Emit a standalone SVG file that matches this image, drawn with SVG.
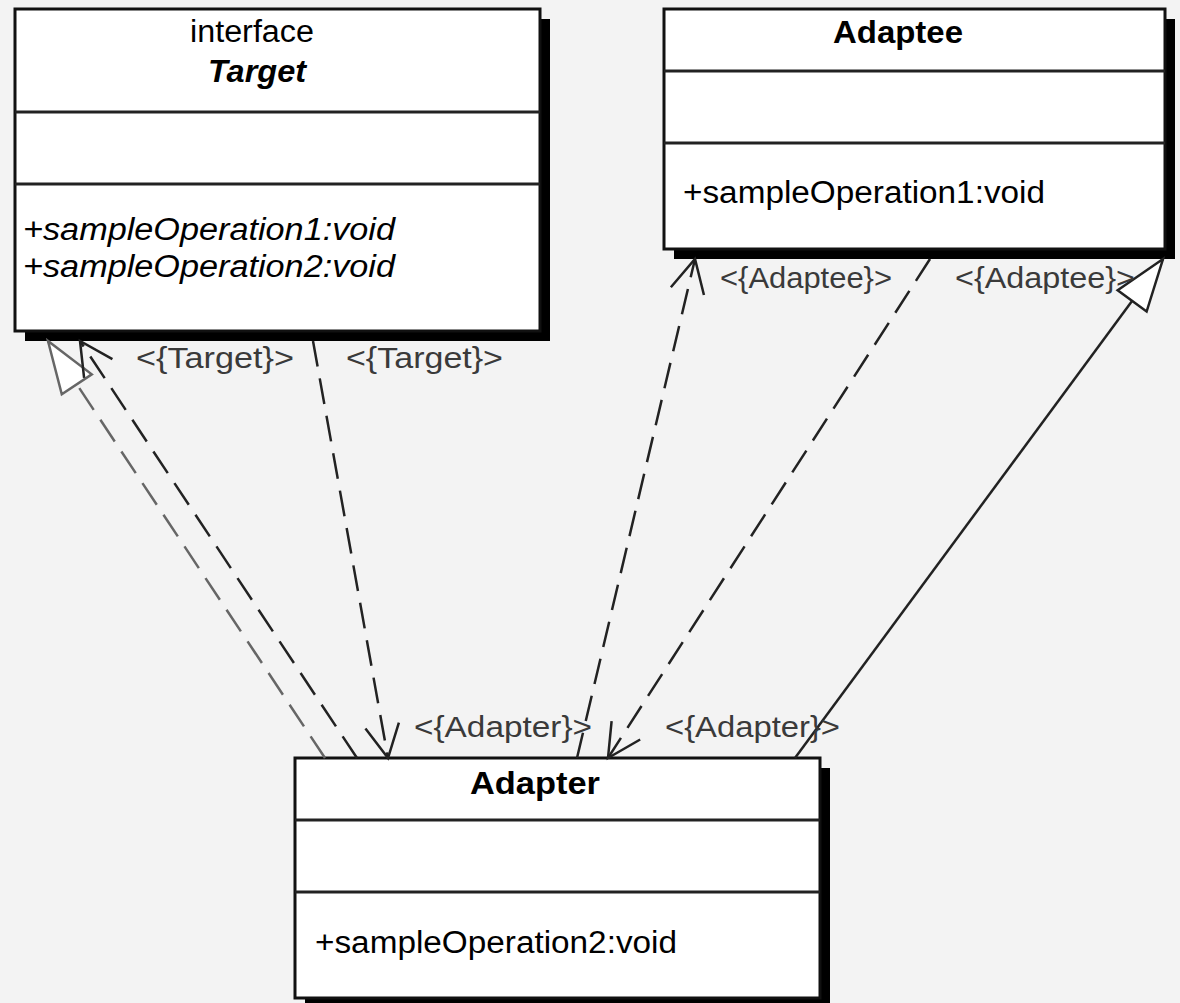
<svg xmlns="http://www.w3.org/2000/svg" width="1180" height="1003" viewBox="0 0 1180 1003">
<style>
.bg{fill:#f3f3f3}
.shadow{fill:#000}
.box{fill:#fff;stroke:#111;stroke-width:3}
.div{stroke:#222;stroke-width:3}
.t{font-family:"Liberation Sans",Arial,sans-serif;fill:#000;font-size:31px}
.b{font-weight:bold}
.i{font-style:italic}
.lbl{font-family:"Liberation Sans",Arial,sans-serif;fill:#3a3a3a;font-size:30px}
.dash{fill:none;stroke:#222;stroke-width:2.5;stroke-dasharray:26,12}
.real{fill:none;stroke:#666;stroke-width:2.5;stroke-dasharray:26,12}
.solid{fill:none;stroke:#222;stroke-width:2.5}
</style>
<defs>
<marker id="open" markerUnits="userSpaceOnUse" viewBox="-40 -20 44 40" refX="0" refY="0" markerWidth="44" markerHeight="40" orient="auto" overflow="visible">
<path d="M-33,-17 L0,0 L-33,17" fill="none" stroke="#222" stroke-width="2.5" stroke-dasharray="none"/>
</marker>
<marker id="triGray" markerUnits="userSpaceOnUse" viewBox="-56 -22 60 44" refX="0" refY="0" markerWidth="60" markerHeight="44" orient="auto" overflow="visible">
<path d="M0,0 L-52,-18 L-52,18 Z" fill="#fff" stroke="#666" stroke-width="2.5" stroke-dasharray="none"/>
</marker>
<marker id="triDark" markerUnits="userSpaceOnUse" viewBox="-56 -22 60 44" refX="0" refY="0" markerWidth="60" markerHeight="44" orient="auto" overflow="visible">
<path d="M0,0 L-52,-18 L-52,18 Z" fill="#fff" stroke="#222" stroke-width="2.5" stroke-dasharray="none"/>
</marker>
</defs>
<rect class="bg" x="0" y="0" width="1180" height="1003"/>

<g id="Target">
<rect class="shadow" x="25" y="19" width="525" height="322"/>
<rect class="box" x="15" y="9" width="525" height="322"/>
<line class="div" x1="15" y1="112" x2="540" y2="112"/>
<line class="div" x1="15" y1="184" x2="540" y2="184"/>
<text class="t" x="190" y="42" textLength="124" lengthAdjust="spacingAndGlyphs">interface</text>
<text class="t b i" x="208" y="82" textLength="98" lengthAdjust="spacingAndGlyphs">Target</text>
<text class="t i" x="23" y="240" textLength="372" lengthAdjust="spacingAndGlyphs">+sampleOperation1:void</text>
<text class="t i" x="23" y="277" textLength="372" lengthAdjust="spacingAndGlyphs">+sampleOperation2:void</text>
</g>

<g id="Adaptee">
<rect class="shadow" x="674" y="19" width="501" height="240"/>
<rect class="box" x="664" y="9" width="501" height="240"/>
<line class="div" x1="664" y1="71" x2="1165" y2="71"/>
<line class="div" x1="664" y1="143" x2="1165" y2="143"/>
<text class="t b" x="833" y="43" textLength="130" lengthAdjust="spacingAndGlyphs">Adaptee</text>
<text class="t" x="683" y="203" textLength="362" lengthAdjust="spacingAndGlyphs">+sampleOperation1:void</text>
</g>

<g id="Adapter">
<rect class="shadow" x="305" y="768" width="525" height="240"/>
<rect class="box" x="295" y="758" width="525" height="240"/>
<line class="div" x1="295" y1="820" x2="820" y2="820"/>
<line class="div" x1="295" y1="892" x2="820" y2="892"/>
<text class="t b" x="470" y="794" textLength="130" lengthAdjust="spacingAndGlyphs">Adapter</text>
<text class="t" x="315" y="953" textLength="362" lengthAdjust="spacingAndGlyphs">+sampleOperation2:void</text>
</g>

<g id="connectors">
<line class="real" x1="325" y1="758" x2="48" y2="341" marker-end="url(#triGray)"/>
<line class="dash" x1="357" y1="758" x2="80" y2="341" marker-end="url(#open)"/>
<line class="dash" x1="313" y1="341" x2="388" y2="758" marker-end="url(#open)"/>
<line class="dash" x1="577" y1="758" x2="695" y2="259" marker-end="url(#open)"/>
<line class="dash" x1="930" y1="259" x2="608" y2="758" marker-end="url(#open)"/>
<line class="solid" x1="795" y1="758" x2="1163" y2="259" marker-end="url(#triDark)"/>
<text class="lbl" x="136" y="368" textLength="158" lengthAdjust="spacingAndGlyphs">&lt;{Target}&gt;</text>
<text class="lbl" x="346" y="368" textLength="157" lengthAdjust="spacingAndGlyphs">&lt;{Target}&gt;</text>
<text class="lbl" x="720" y="288" textLength="172" lengthAdjust="spacingAndGlyphs">&lt;{Adaptee}&gt;</text>
<text class="lbl" x="955" y="288" textLength="180" lengthAdjust="spacingAndGlyphs">&lt;{Adaptee}&gt;</text>
<text class="lbl" x="414" y="737" textLength="178" lengthAdjust="spacingAndGlyphs">&lt;{Adapter}&gt;</text>
<text class="lbl" x="665" y="737" textLength="175" lengthAdjust="spacingAndGlyphs">&lt;{Adapter}&gt;</text>
</g>
</svg>
